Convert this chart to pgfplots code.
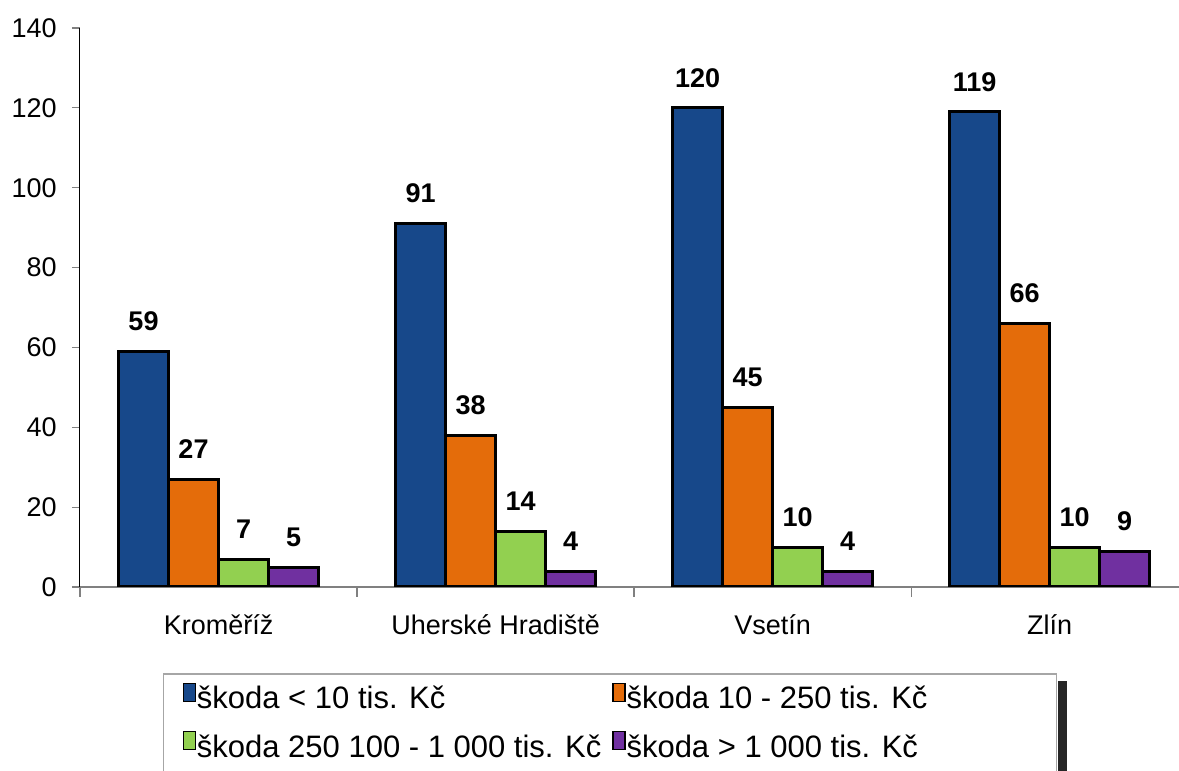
\documentclass[border=0pt]{standalone}
\usepackage{fontspec}
\setmainfont{Liberation Sans}
\usepackage{pgfplots}
\pgfplotsset{compat=1.18}

\definecolor{cblue}{HTML}{17488A}
\definecolor{corange}{HTML}{E46C0A}
\definecolor{cgreen}{HTML}{92D050}
\definecolor{cpurple}{HTML}{7030A0}

\begin{document}
\fontsize{13.5}{16}\selectfont
\begin{tikzpicture}
\begin{axis}[
    scale only axis,
    width=549.5pt, height=279.5pt,
    ybar=0pt, bar width=0.1805,
    xmin=-0.5, xmax=3.467,
    ymin=0, ymax=140,
    ytick={0,20,...,140},
    xtick={0,1,2,3},
    xticklabels={Kroměříž, Uherské Hradiště, Vsetín, Zlín},
    minor xtick={-0.5,0.5,1.5,2.5},
    axis x line*=bottom, axis y line*=left,
    x axis line style={gray, -, line width=0.6pt},
    y axis line style={black, -, line width=0.5pt},
    major x tick style={draw=none},
    minor x tick style={gray, line width=0.6pt},
    y tick style={gray, line width=0.6pt},
    tick align=outside,
    major tick length=4pt, minor tick length=5pt,
    font=\fontsize{13.5}{16}\selectfont,
    /pgf/number format/assume math mode=true,
    yticklabel style={xshift=-3pt},
    xticklabel style={yshift=-5pt},
    nodes near coords,
    nodes near coords style={font=\fontsize{13.5}{16}\selectfont\bfseries, yshift=5pt},
    legend columns=2,
    legend cell align=left,
    legend image code/.code={\draw[#1, draw=black, line width=0.6pt] (0pt,-1pt) rectangle (6pt,8pt);},
    legend style={at={(0.0755,-0.154)}, anchor=north west, name=leg,
        draw=gray!70, line width=0.75pt, fill=white,
        inner xsep=9.5pt, inner ysep=4pt, row sep=7pt,
        font=\fontsize{15.5}{18}\selectfont,
        nodes={inner xsep=0.5pt},
        /tikz/every even column/.append style={column sep=5pt}},
]
\addplot[fill=cblue, draw=black, line width=1.5pt] coordinates {(0,59) (1,91) (2,120) (3,119)};
\addplot[fill=corange, draw=black, line width=1.5pt] coordinates {(0,27) (1,38) (2,45) (3,66)};
\addplot[fill=cgreen, draw=black, line width=1.5pt] coordinates {(0,7) (1,14) (2,10) (3,10)};
\addplot[fill=cpurple, draw=black, line width=1.5pt] coordinates {(0,5) (1,4) (2,4) (3,9)};
\legend{škoda < 10 tis. Kč, \makebox[205pt][l]{škoda 10 - 250 tis. Kč}, škoda 250 100 - 1 000 tis. Kč, \makebox[205pt][l]{škoda > 1 000 tis. Kč}}
\end{axis}
% dark shadow on the right side of the legend box
\fill[black!85] ([xshift=0.4pt,yshift=-4pt]leg.north east) rectangle ([xshift=4.8pt,yshift=-30pt]leg.south east);
\pgfresetboundingbox
\path[use as bounding box] ([xshift=-40pt,yshift=-92pt]current axis.south west) rectangle ([yshift=14pt]current axis.north east);
\end{tikzpicture}
\end{document}
